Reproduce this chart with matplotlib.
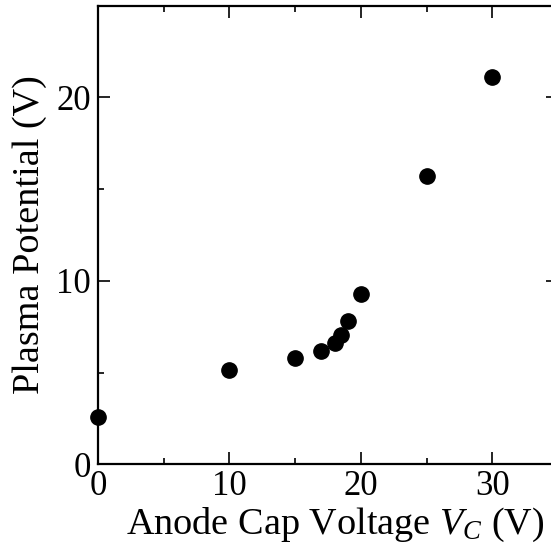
import matplotlib
matplotlib.use("Agg")
import matplotlib.pyplot as plt
from matplotlib.ticker import MultipleLocator

cap_voltage = [0, 10, 15, 17, 18, 18.5, 19, 20, 25, 30]
plasma_potential = [2.6, 5.15, 5.8, 6.2, 6.6, 7.05, 7.8, 9.3, 15.7, 21.1]

plt.rcParams['font.family'] = ['Liberation Serif', 'DejaVu Serif']
plt.rcParams['mathtext.fontset'] = 'custom'
plt.rcParams['mathtext.it'] = 'Liberation Serif:italic'
plt.rcParams['mathtext.rm'] = 'Liberation Serif'

fig = plt.figure(figsize=(5.51, 5.52), dpi=100)
ax = fig.add_axes([98/551, 1 - 464.3/552, (558 - 98)/551, (464.3 - 5.5)/552])

ax.plot(cap_voltage, plasma_potential, 'o', color='black', markersize=11, clip_on=False, zorder=3)

ax.set_xlim(0, 35)
ax.set_ylim(0, 25)
ax.xaxis.set_major_locator(MultipleLocator(10))
ax.xaxis.set_minor_locator(MultipleLocator(5))
ax.yaxis.set_major_locator(MultipleLocator(10))
ax.yaxis.set_minor_locator(MultipleLocator(5))
ax.tick_params(which='both', direction='in', top=True, right=True, width=1.2, labelsize=25)
ax.tick_params(axis='x', pad=4)
ax.tick_params(axis='y', pad=5)
ax.tick_params(which='major', length=8.5)
ax.tick_params(which='minor', length=4.5)
for s in ax.spines.values():
    s.set_linewidth(1.6)

ax.set_xlabel(r'Anode Cap Voltage $V_C$ (V)', fontsize=27.5)
ax.set_ylabel('Plasma Potential (V)', fontsize=27.5)
ax.xaxis.set_label_coords(0.516, -0.09)
ax.yaxis.set_label_coords(-0.11, 0.5)

fig.savefig('out.png', dpi=100)
